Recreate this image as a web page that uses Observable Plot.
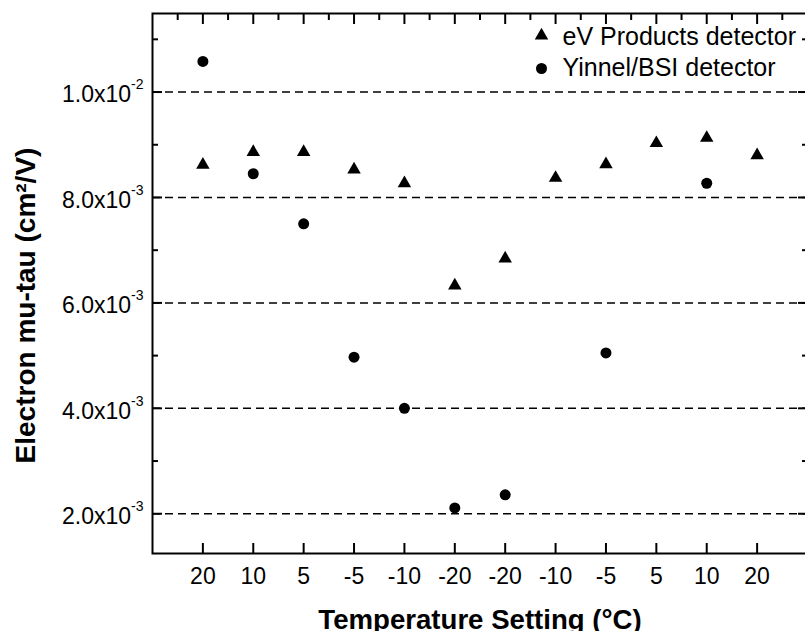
<!DOCTYPE html>
<html>
<head>
<meta charset="utf-8">
<script src="https://cdn.jsdelivr.net/npm/d3@7"></script>
<script src="https://cdn.jsdelivr.net/npm/@observablehq/plot@0.6"></script>
<style>
  html, body { margin: 0; padding: 0; background: white; overflow: hidden; }
  #chart { width: 805px; height: 631px; overflow: hidden; }
</style>
</head>
<body>
<div id="chart"></div>
<script>
// ---- data ----
const tempLabels = ["20", "10", "5", "-5", "-10", "-20", "-20", "-10", "-5", "5", "10", "20"];
const seriesNames = ["eV Products detector", "Yinnel/BSI detector"];
const evProducts = [8.62e-3, 8.86e-3, 8.86e-3, 8.53e-3, 8.27e-3, 6.33e-3, 6.84e-3, 8.37e-3, 8.63e-3, 9.03e-3, 9.13e-3, 8.80e-3];
const yinnelBSI = [1.058e-2, 8.45e-3, 7.50e-3, 4.97e-3, 4.00e-3, 2.11e-3, 2.36e-3, null, 5.05e-3, null, 8.27e-3, null];
const yMajorTicks = [2e-3, 4e-3, 6e-3, 8e-3, 1e-2];
const yMinorTicks = [3e-3, 5e-3, 7e-3, 9e-3, 1.1e-2];
const xTitle = "Temperature Setting (°C)";
const yTitle = "Electron mu-tau (cm²/V)";

// ---- derived tables ----
const idx = tempLabels.map((_, i) => i);
const idxMinor = d3.range(-0.5, tempLabels.length, 1);
const evRows = evProducts.map((v, i) => ({i, v})).filter(d => d.v != null);
const yiRows = yinnelBSI.map((v, i) => ({i, v})).filter(d => d.v != null);

const FONT = "'Liberation Sans', Arial, Helvetica, sans-serif";

function sci(v) {
  const e = Math.floor(Math.log10(v) + 1e-9);
  const m = v / Math.pow(10, e);
  return m.toFixed(1) + "x10|" + e;
}

const tickStyle = {stroke: "black", strokeWidth: 2, fill: "none", label: null};

const chart = Plot.plot({
  width: 805,
  height: 631,
  marginLeft: 152,
  marginRight: -2,
  marginTop: 13,
  marginBottom: 78,
  x: {domain: [-1, 12]},
  y: {domain: [1.246e-3, 1.149e-2]},
  style: {fontFamily: FONT, background: "white", color: "black", overflow: "visible"},
  marks: [
    // dashed grid lines
    Plot.ruleY(yMajorTicks, {y: d => d, stroke: "black", strokeWidth: 1.5, strokeDasharray: "8,5"}),
    // inward ticks
    Plot.axisY(yMajorTicks, {anchor: "left", tickSize: -10, ...tickStyle}),
    Plot.axisY(yMinorTicks, {anchor: "left", tickSize: -6, ...tickStyle}),
    Plot.axisY(yMajorTicks, {anchor: "right", tickSize: -10, ...tickStyle}),
    Plot.axisY(yMinorTicks, {anchor: "right", tickSize: -6, ...tickStyle}),
    Plot.axisX(idx, {anchor: "bottom", tickSize: -10, ...tickStyle}),
    Plot.axisX(idx, {anchor: "top", tickSize: -10, ...tickStyle}),
    Plot.axisX(idxMinor, {anchor: "top", tickSize: -6, ...tickStyle}),
    // tick labels
    Plot.axisY(yMajorTicks, {anchor: "left", tickSize: 0, tickPadding: 9, tickFormat: sci, fontSize: 23, label: null, dy: 3}),
    Plot.axisX(idx, {anchor: "bottom", tickSize: 0, tickPadding: 14, tickFormat: i => tempLabels[i], fontSize: 23, label: null}),
    // frame
    Plot.frame({stroke: "black", strokeWidth: 2}),
    // data
    Plot.dot(evRows, {x: "i", y: "v", symbol: "triangle", r: 5, fill: "black", stroke: "none"}),
    Plot.dot(yiRows, {x: "i", y: "v", symbol: "circle", r: 5.5, fill: "black", stroke: "none"}),
    // legend
    Plot.dot([seriesNames[0]], {frameAnchor: "top-left", dx: 389, dy: 22, symbol: "triangle", r: 5, fill: "black", stroke: "none"}),
    Plot.dot([seriesNames[1]], {frameAnchor: "top-left", dx: 389, dy: 55, symbol: "circle", r: 5.5, fill: "black", stroke: "none"}),
    Plot.text([seriesNames[0]], {text: d => d, frameAnchor: "top-left", dx: 410, dy: 23, textAnchor: "start", lineAnchor: "middle", fontSize: 25, fill: "black"}),
    Plot.text([seriesNames[1]], {text: d => d, frameAnchor: "top-left", dx: 410, dy: 54.5, textAnchor: "start", lineAnchor: "middle", fontSize: 25, fill: "black"}),
    // axis titles
    Plot.text([xTitle], {text: d => d, frameAnchor: "bottom", dy: 67, textAnchor: "middle", lineAnchor: "middle", fontSize: 27.6, fontWeight: "bold", fill: "black"}),
    Plot.text([yTitle], {text: d => d, frameAnchor: "left", dx: -126, dy: 22, rotate: -90, textAnchor: "middle", lineAnchor: "middle", fontSize: 28, fontWeight: "bold", fill: "black"})
  ]
});

// superscripts in y tick labels
chart.querySelectorAll('g[aria-label="y-axis tick label"] text').forEach(t => {
  const s = t.textContent;
  if (!s.includes("|")) return;
  const [base, exp] = s.split("|");
  t.textContent = "";
  const ns = "http://www.w3.org/2000/svg";
  const a = document.createElementNS(ns, "tspan");
  a.textContent = base;
  const b = document.createElementNS(ns, "tspan");
  b.textContent = exp;
  b.setAttribute("dy", "-13");
  b.setAttribute("font-size", "14");
  t.appendChild(a);
  t.appendChild(b);
});

document.getElementById("chart").appendChild(chart);
</script>
</body>
</html>
